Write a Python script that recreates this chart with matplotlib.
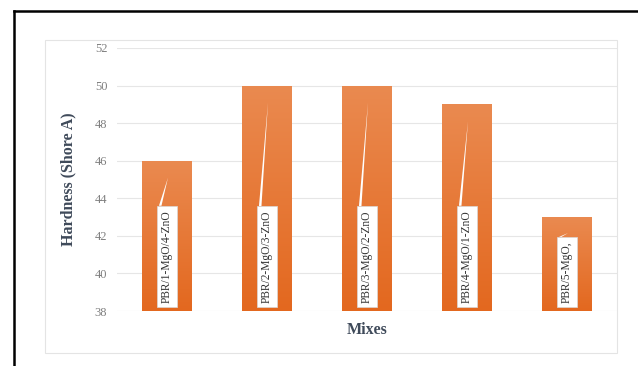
import matplotlib
matplotlib.use("Agg")
import matplotlib.pyplot as plt
import numpy as np
from matplotlib.lines import Line2D
from matplotlib.patches import Rectangle, Polygon
from matplotlib.colors import LinearSegmentedColormap

categories = ["PBR/1-MgO/4-ZnO", "PBR/2-MgO/3-ZnO", "PBR/3-MgO/2-ZnO",
              "PBR/4-MgO/1-ZnO", "PBR/5-MgO,"]
hardness = [46, 50, 50, 49, 43]
yticks = [38, 40, 42, 44, 46, 48, 50, 52]

W, H = 638, 366
fig = plt.figure(figsize=(W / 100, H / 100), dpi=100)
fig.patch.set_facecolor("white")

def fx(px):
    return px / W

def fy(py):
    return 1 - py / H

# outer black frame (left and top edges visible)
fig.add_artist(Line2D([fx(13.5), fx(13.5)], [fy(366), fy(10.5)], color="black", lw=1.8))
fig.add_artist(Line2D([fx(13.5), fx(638)], [fy(10.5), fy(10.5)], color="black", lw=1.8))
# inner light chart-area frame
fig.add_artist(Rectangle((fx(45), fy(353)), fx(617) - fx(45), fy(40) - fy(353),
                         fill=False, ec="#E4E4E4", lw=0.8))

ax = fig.add_axes([fx(117), fy(311), fx(617) - fx(117), fy(48) - fy(311)])
x = np.arange(len(categories))
ax.set_xlim(-0.5, len(categories) - 0.5)
ax.set_ylim(38, 52)
ax.set_yticks(yticks)
ax.set_yticklabels([str(v) for v in yticks], fontfamily="Liberation Serif",
                   fontsize=9, color="#7F7F7F")
ax.tick_params(axis="y", length=0, pad=7)
ax.set_xticks([])
for s in ax.spines.values():
    s.set_visible(False)
ax.grid(axis="y", color="#E6E6E6", lw=0.8)
ax.set_axisbelow(True)

bars = ax.bar(x, [h - 38 for h in hardness], bottom=38, width=0.5, color="#E8772F", zorder=2)
cmap = LinearSegmentedColormap.from_list("og", ["#E3681F", "#EA8A50"])
grad = np.linspace(0, 1, 256).reshape(-1, 1)
for b in bars:
    x0, y0 = b.get_x(), b.get_y()
    im = ax.imshow(grad, extent=(x0, x0 + b.get_width(), y0, y0 + b.get_height()),
                   origin="lower", cmap=cmap, aspect="auto", zorder=2.1)
    im.set_clip_path(b)
ax.set_xlim(-0.5, len(categories) - 0.5)
ax.set_ylim(38, 52)

ax.set_ylabel("Hardness (Shore A)", fontfamily="Liberation Serif", fontweight="bold",
              fontsize=11.5, color="#3F4A5A", labelpad=13)
ax.set_xlabel("Mixes", fontfamily="Liberation Serif", fontweight="bold",
              fontsize=11.5, color="#3F4A5A", labelpad=8)

texts = []
for xi, lab in zip(x, categories):
    t = ax.text(xi, 38.45, lab, rotation=90, ha="center", va="bottom",
                fontfamily="Liberation Serif", fontsize=8.3, color="#333333", zorder=5,
                bbox=dict(boxstyle="square,pad=0.35", fc="white", ec="#D8D8D8", lw=0.5))
    texts.append(t)

fig.canvas.draw()
r = fig.canvas.get_renderer()
inv = ax.transData.inverted()
for xi, t, h in zip(x, texts, hardness):
    bb = t.get_bbox_patch().get_window_extent(r)
    (bx0, by1) = inv.transform((bb.x0 + 2.0, bb.y1))
    (bx1, _) = inv.transform((bb.x0 + 4.5, bb.y1))
    top = max(h - 0.9, by1 + 0.2)
    apex_x = xi + 0.01
    ax.add_patch(Polygon([(bx0, by1), (bx1, by1), (apex_x, top)], closed=True,
                         fc="white", ec="none", zorder=4))

fig.savefig("out.png", dpi=100)
